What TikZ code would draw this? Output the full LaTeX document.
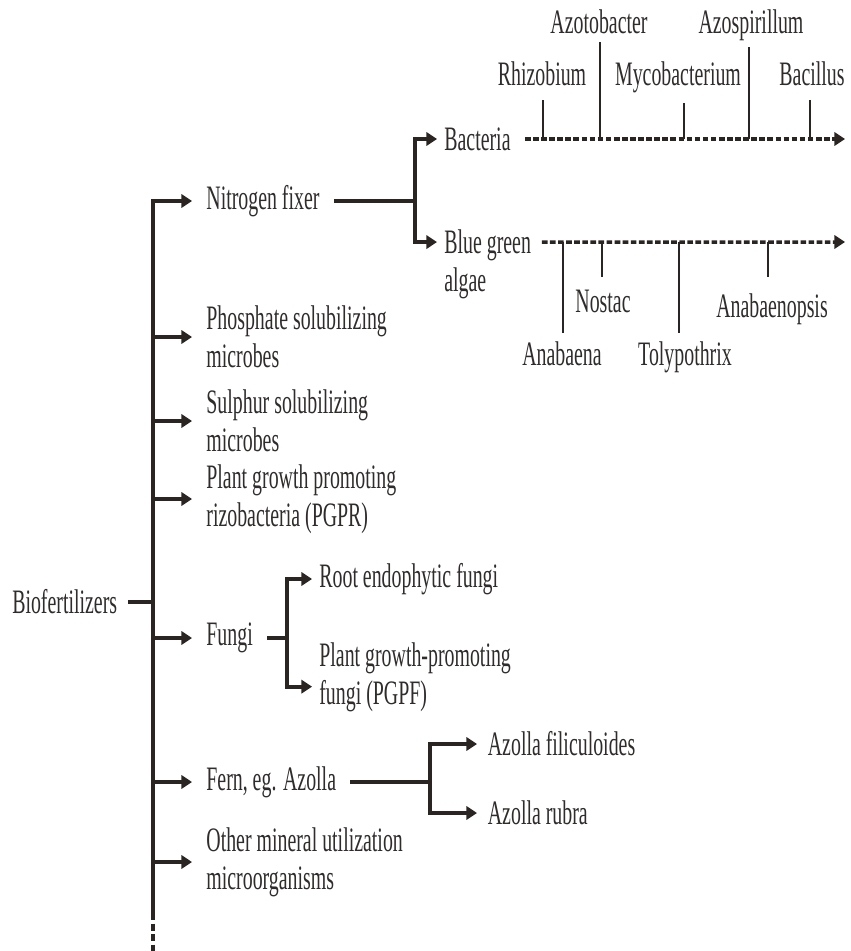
\documentclass[tikz,border=0pt]{standalone}
\usepackage{fontspec}
\setmainfont[FakeStretch=0.58]{Liberation Serif}
\usepackage{tikz}
\usetikzlibrary{arrows.meta}
\definecolor{ink}{HTML}{2A2522}
\definecolor{txt}{HTML}{2F2C2B}

\begin{document}
\begin{tikzpicture}[x=0.02cm, y=-0.02cm,
      ln/.style={draw=ink, line width=2.1pt},
      arr/.style={ln, -{Triangle[length=6pt,width=7.5pt]}},
      dsh/.style={draw=ink, line width=2pt, dash pattern=on 3.2pt off 1.4pt, -{Triangle[length=6pt,width=7.5pt]}},
      tick/.style={draw=ink, line width=1.5pt},
      lbl/.style={text=txt, font=\fontsize{19.5}{21.5}\selectfont, inner ysep=1pt, inner xsep=8pt, anchor=west, align=left},
      sp/.style={text=txt, font=\fontsize{19.5}{21.5}\selectfont, inner sep=0pt, anchor=base}]
    \useasboundingbox (0,0) rectangle (851,951);
    \coordinate (trunk) at (153,913); \coordinate (trunkend) at (153,951);
    \node[lbl, anchor=east, inner xsep=6pt] (bio) at (128,602) {Biofertilizers};
    \node[lbl] (nf) at (192,201) {Nitrogen fixer};
    \node[lbl] (psm) at (192,337) {Phosphate solubilizing\\microbes};
    \node[lbl] (ssm) at (192,421) {Sulphur solubilizing\\microbes};
    \node[lbl] (pgpr) at (192,499) {Plant growth promoting\\rizobacteria (PGPR)};
    \node[lbl] (fungi) at (192,638) {Fungi};
    \node[lbl] (fern) at (192,782) {Fern, eg. Azolla};
    \node[lbl] (other) at (192,862) {Other mineral utilization\\microorganisms};
    \draw[arr] (trunk) |- (nf.west);
    \draw[ln, line width=1.8pt, dash pattern=on 4pt off 2pt] (trunk) -- (trunkend);
    \draw[ln] (bio.east) -- (bio.east -| trunk);
    \foreach \n in {psm,ssm,pgpr,fungi,fern,other}
      \draw[arr] (\n.west -| trunk) -- (\n.west);
    \coordinate (nfj) at (415,201);
    \node[lbl, inner xsep=4pt] (bac) at (437,139) {Bacteria};
    \node[lbl, inner xsep=4pt, anchor=north west] (bga) at (437,228) {Blue green\\algae};
    \draw[ln] (nf.east) -- (nfj);
    \draw[arr] (nfj) |- (bac.west);
    \draw[arr] (nfj) |- ([yshift=-8pt]bga.north west);
    \coordinate (bacend) at (845,139); \coordinate (bgaend) at (845,242);
    \draw[dsh] ([xshift=4pt]bac.east) -- (bacend);
    \draw[dsh] ([xshift=2pt,yshift=-8pt]bga.north east) -- (bgaend);
    \foreach \x/\t in {543/100, 600/42, 684/103, 749/47, 810/100}
      \draw[tick] (\x,139) -- (\x,\t);
    \foreach \x/\y/\s in {542/85/Rhizobium, 599/33/Azotobacter, 678/85/Mycobacterium, 751/33/Azospirillum, 812/85/Bacillus}
      \node[sp] (\s) at (\x,\y) {\s};
    \foreach \x/\t in {563/333, 602/277, 679/333, 768/277}
      \draw[tick] (\x,242) -- (\x,\t);
    \foreach \x/\y/\s in {562/365/Anabaena, 603/312/Nostac, 685/365/Tolypothrix, 772/317/Anabaenopsis}
      \node[sp] (\s) at (\x,\y) {\s};
    \coordinate (fj) at (287,638);
    \node[lbl, inner xsep=4pt] (ref) at (312,579) {Root endophytic fungi};
    \node[lbl, inner xsep=4pt] (pgpf) at (312,677) {Plant growth-promoting\\fungi (PGPF)};
    \draw[ln] (fungi.east) -- (fj);
    \draw[arr] (fj) |- (ref.west);
    \draw[arr] (fj) |- ([yshift=-5.5pt]pgpf.west);
    \coordinate (fej) at (430,782);
    \node[lbl, inner xsep=6pt] (afil) at (477,744) {Azolla filiculoides};
    \node[lbl, inner xsep=6pt] (arub) at (477,813) {Azolla rubra};
    \draw[ln] (fern.east) -- (fej);
    \draw[arr] (fej) |- (afil.west);
    \draw[arr] (fej) |- (arub.west);
  \end{tikzpicture}
\end{document}
